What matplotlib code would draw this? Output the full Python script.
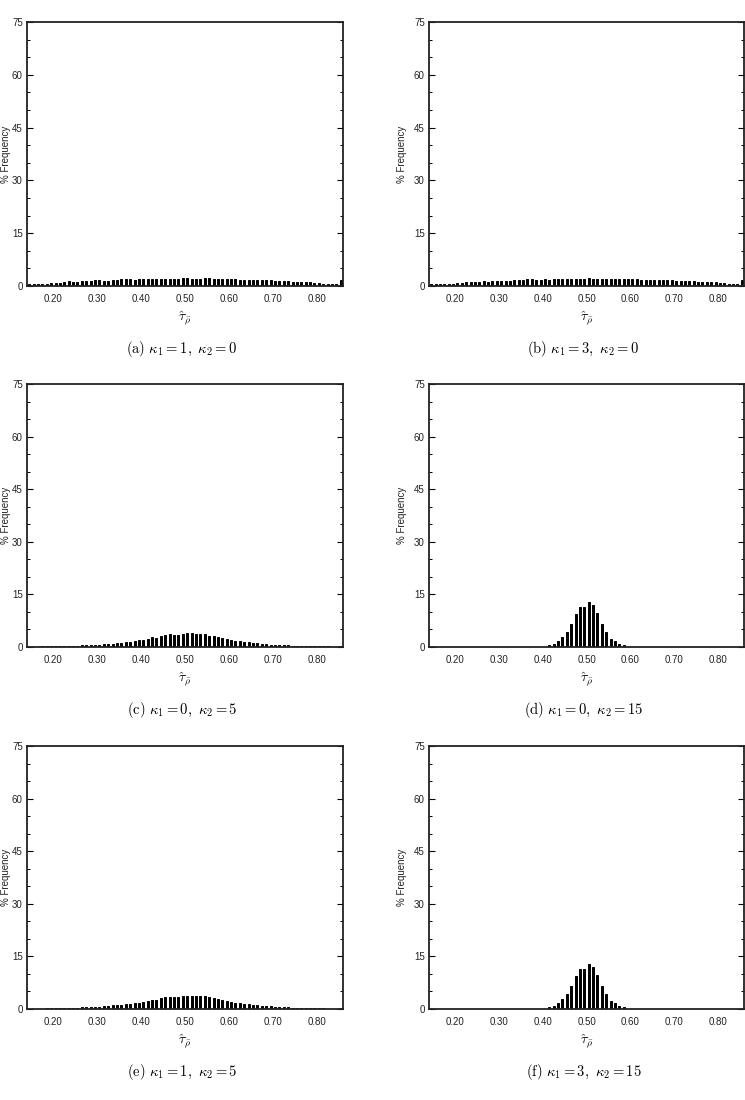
import numpy as np
import matplotlib
matplotlib.use("Agg")
import matplotlib.pyplot as plt
from matplotlib.ticker import MultipleLocator

plt.rcParams['mathtext.fontset'] = 'cm'
plt.rcParams['font.family'] = ['Liberation Sans', 'DejaVu Sans']

# bin centres of the histograms (tau-hat values)
bin_centers = np.round(0.145 + 0.01 * np.arange(72), 3)

freq_a = [0.7, 0.6, 0.6, 0.6, 0.7, 0.75, 0.85, 0.95, 1.0, 1.3, 1.2, 1.1,
          1.5, 1.3, 1.3, 1.6, 1.6, 1.4, 1.4, 1.7, 1.7, 2.0, 2.0, 2.0,
          1.8, 1.9, 1.9, 1.9, 1.9, 2.0, 2.0, 2.0, 2.0, 2.0, 2.0, 2.2,
          2.2, 1.9, 2.1, 2.1, 2.2, 2.2, 1.9, 2.1, 2.0, 2.0, 2.0, 2.0,
          1.8, 1.8, 1.8, 1.8, 1.7, 1.7, 1.6, 1.6, 1.4, 1.5, 1.3, 1.3,
          1.2, 1.1, 1.1, 1.1, 1.0, 0.9, 0.8, 0.7, 0.7, 0.7, 0.7, 1.8]

freq_b = [0.6, 0.5, 0.5, 0.6, 0.6, 0.7, 0.8, 0.9, 1.0, 1.1, 1.1, 1.2,
          1.3, 1.2, 1.3, 1.5, 1.5, 1.4, 1.4, 1.6, 1.6, 1.8, 1.9, 1.9,
          1.8, 1.8, 1.9, 1.8, 1.9, 1.9, 1.9, 2.0, 1.9, 2.0, 2.0, 2.1,
          2.2, 1.9, 2.0, 2.0, 2.1, 2.1, 2.0, 2.0, 1.9, 1.9, 1.9, 1.9,
          1.8, 1.8, 1.7, 1.7, 1.7, 1.6, 1.6, 1.6, 1.5, 1.5, 1.3, 1.4,
          1.3, 1.2, 1.2, 1.2, 1.1, 1.0, 0.9, 0.8, 0.7, 0.6, 0.7, 1.8]

freq_c = [0.1, 0.1, 0.1, 0.15, 0.15, 0.2, 0.2, 0.25, 0.3, 0.3, 0.35, 0.4,
          0.45, 0.5, 0.55, 0.6, 0.7, 0.8, 0.85, 0.9, 1.1, 1.2, 1.3, 1.5,
          1.6, 1.9, 2.0, 2.4, 2.8, 2.5, 3.2, 3.3, 3.6, 3.5, 3.3, 3.6,
          3.9, 3.9, 3.7, 3.7, 3.6, 3.2, 3.0, 2.9, 2.6, 2.3, 1.9, 1.6,
          1.6, 1.5, 1.3, 1.2, 1.0, 0.9, 0.9, 0.7, 0.65, 0.6, 0.5, 0.45,
          0.4, 0.35, 0.3, 0.3, 0.25, 0.2, 0.2, 0.15, 0.15, 0.1, 0.1, 0.3]

freq_d = [0, 0, 0, 0, 0, 0, 0, 0, 0, 0, 0, 0,
          0, 0, 0, 0, 0, 0, 0, 0, 0, 0, 0, 0,
          0, 0, 0.1, 0.6, 0.8, 1.6, 2.8, 4.2, 6.7, 9.5, 11.4, 11.5,
          12.8, 12.1, 9.7, 6.7, 4.3, 2.3, 1.6, 0.8, 0.5, 0.1, 0, 0,
          0, 0, 0, 0, 0, 0, 0, 0, 0, 0, 0, 0,
          0, 0, 0, 0, 0, 0, 0, 0, 0, 0, 0, 0]

freq_e = [0.1, 0.1, 0.1, 0.1, 0.15, 0.2, 0.2, 0.25, 0.3, 0.35, 0.35, 0.4,
          0.45, 0.5, 0.6, 0.6, 0.7, 0.8, 0.9, 1.0, 1.1, 1.2, 1.3, 1.4,
          1.6, 1.8, 2.0, 2.3, 2.7, 2.6, 3.1, 3.4, 3.5, 3.4, 3.3, 3.7,
          3.8, 3.8, 3.8, 3.7, 3.6, 3.3, 3.1, 2.8, 2.6, 2.3, 2.0, 1.7,
          1.6, 1.4, 1.3, 1.2, 1.1, 0.9, 0.9, 0.8, 0.7, 0.6, 0.5, 0.45,
          0.4, 0.35, 0.3, 0.3, 0.25, 0.2, 0.2, 0.15, 0.1, 0.1, 0.1, 0.3]

freq_f = [0, 0, 0, 0, 0, 0, 0, 0, 0, 0, 0, 0,
          0, 0, 0, 0, 0, 0, 0, 0, 0, 0, 0, 0,
          0, 0, 0.1, 0.6, 0.8, 1.6, 2.8, 4.2, 6.7, 9.5, 11.4, 11.5,
          12.7, 12.0, 9.7, 6.7, 4.3, 2.3, 1.6, 0.8, 0.5, 0.1, 0, 0,
          0, 0, 0, 0, 0, 0, 0, 0, 0, 0, 0, 0,
          0, 0, 0, 0, 0, 0, 0, 0, 0, 0, 0, 0]

captions = [r"$\mathrm{(a)}\ \kappa_1 = 1,\ \kappa_2 = 0$",
            r"$\mathrm{(b)}\ \kappa_1 = 3,\ \kappa_2 = 0$",
            r"$\mathrm{(c)}\ \kappa_1 = 0,\ \kappa_2 = 5$",
            r"$\mathrm{(d)}\ \kappa_1 = 0,\ \kappa_2 = 15$",
            r"$\mathrm{(e)}\ \kappa_1 = 1,\ \kappa_2 = 5$",
            r"$\mathrm{(f)}\ \kappa_1 = 3,\ \kappa_2 = 15$"]

series = [freq_a, freq_b, freq_c, freq_d, freq_e, freq_f]
y_ticks = [0, 15, 30, 45, 60, 75]
x_ticks = [0.20, 0.30, 0.40, 0.50, 0.60, 0.70, 0.80]
x_ticklabels = ["0.20", "0.30", "0.40", "0.50", "0.60", "0.70", "0.80"]

W, H = 745, 1100
fig = plt.figure(figsize=(W / 100, H / 100), dpi=100)

col_x = [(27, 343), (429, 744)]
row_y = [(22, 286), (384, 647), (746, 1009)]
ylabel_off = [16, 22]

for i, vals in enumerate(series):
    r, c = divmod(i, 2)
    x0, x1 = col_x[c]
    y0, y1 = row_y[r]
    ax = fig.add_axes([x0 / W, 1 - y1 / H, (x1 - x0) / W, (y1 - y0) / H])
    ax.bar(bin_centers, vals, width=0.0045, color='black', edgecolor='black',
           linewidth=0.7)
    ax.set_xlim(0.14, 0.86)
    ax.set_ylim(0, 75)
    ax.set_xticks(x_ticks)
    ax.set_xticklabels(x_ticklabels)
    ax.set_yticks(y_ticks)
    ax.yaxis.set_minor_locator(MultipleLocator(5))
    ax.tick_params(axis='x', length=0, pad=6, labelsize=7, colors='#222222')
    ax.tick_params(axis='y', which='major', direction='in', length=4,
                   width=0.8, left=True, right=True, labelsize=7,
                   labelcolor='#222222', pad=3)
    ax.tick_params(axis='y', which='minor', direction='in', length=2.5,
                   width=0.7, left=True, right=True)
    for s in ax.spines.values():
        s.set_linewidth(1.3)
        s.set_color('#222222')
    ax.set_ylabel("% Frequency", fontsize=7, color='#222222')
    ax.yaxis.set_label_coords(-ylabel_off[c] / (x1 - x0), 0.5)
    ax.set_xlabel(r"$\hat{\tau}_{\bar{\rho}}$", fontsize=10, labelpad=4)
    cx = (x0 + x1) / 2 - 3
    fig.text(cx / W, 1 - (y1 + 63) / H, captions[i], ha='center',
             va='center', fontsize=10.5)

fig.savefig("out.png", dpi=100)
